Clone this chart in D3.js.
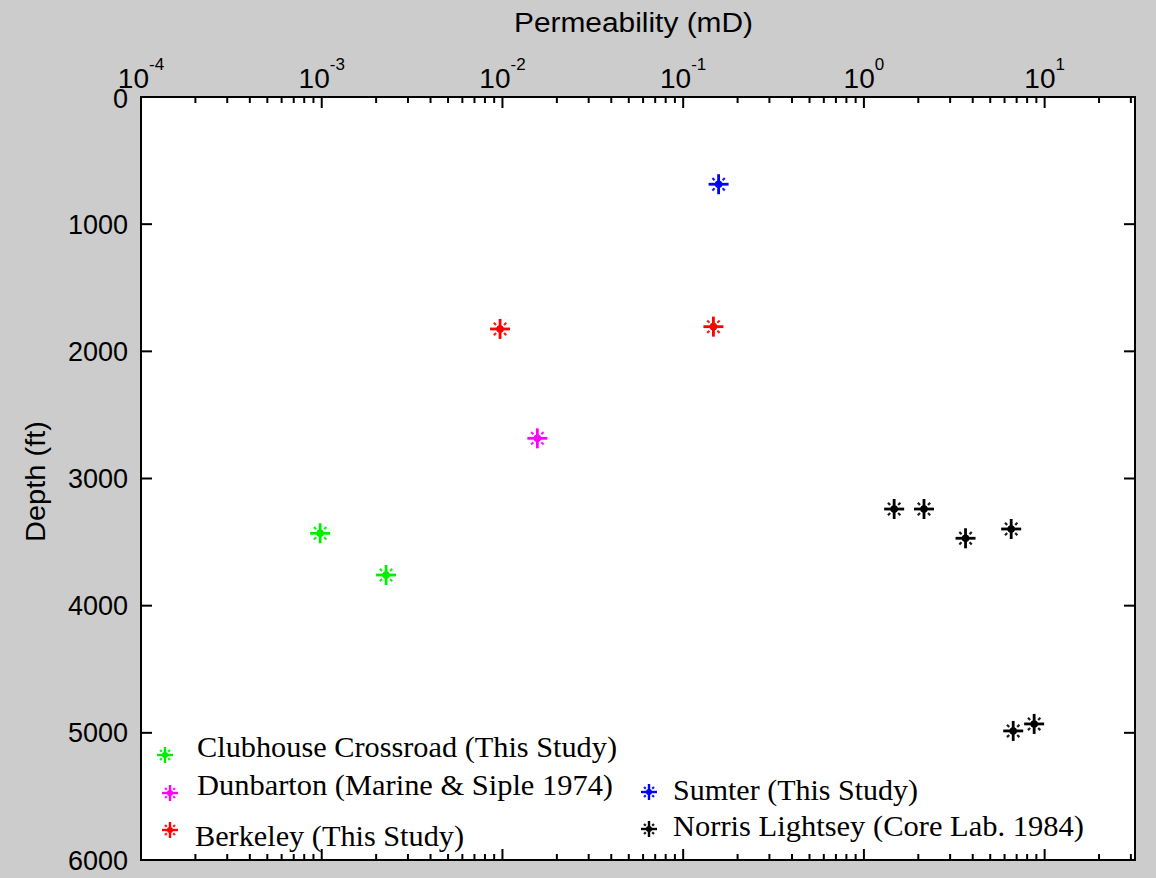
<!DOCTYPE html>
<html>
<head>
<meta charset="utf-8">
<script src="https://cdn.jsdelivr.net/npm/d3@7/dist/d3.min.js"></script>
<style>
  html, body { margin: 0; padding: 0; background: #cccccc; }
  svg { display: block; }
</style>
</head>
<body>
<svg id="chart" width="1156" height="878"></svg>
<script>
// ---- Data ----
const seriesNames = [
  "Clubhouse Crossroad (This Study)",
  "Dunbarton (Marine & Siple 1974)",
  "Berkeley (This Study)",
  "Sumter (This Study)",
  "Norris Lightsey (Core Lab. 1984)"
];
const seriesColors = ["#00ee00", "#ff00ff", "#ff0000", "#0000ff", "#000000"];

const clubhousePerm = [0.00098, 0.00227];
const clubhouseDepth = [3431, 3759];
const dunbartonPerm = [0.0156];
const dunbartonDepth = [2684];
const berkeleyPerm = [0.0097, 0.147];
const berkeleyDepth = [1824, 1806];
const sumterPerm = [0.157];
const sumterDepth = [686];
const norrisPerm = [1.47, 2.15, 3.65, 6.53, 6.70, 8.75];
const norrisDepth = [3240, 3240, 3470, 3397, 4985, 4930];

const xTickExponents = [-4, -3, -2, -1, 0, 1];
const yTicks = [0, 1000, 2000, 3000, 4000, 5000, 6000];
const xDomain = [1e-4, Math.pow(10, 1.5)];
const yDomain = [0, 6000];

// ---- Layout ----
const L = 141, R = 1135, T = 97, B = 860;
const svg = d3.select("#chart");
const x = d3.scaleLog().domain(xDomain).range([L, R]);
const y = d3.scaleLinear().domain(yDomain).range([T, B]);

// plot area
svg.append("rect").attr("x", L).attr("y", T).attr("width", R - L).attr("height", B - T)
  .attr("fill", "#ffffff");

// minor/major ticks for top & bottom
const allTicks = [];
for (let e = -4; e <= 1; e++) {
  for (let m = 1; m <= 9; m++) {
    const v = m * Math.pow(10, e);
    if (v >= xDomain[0] && v <= xDomain[1] * 1.0001) allTicks.push({ v, major: m === 1 });
  }
}
const tickG = svg.append("g").attr("stroke", "#000").attr("stroke-width", 2);
allTicks.forEach(t => {
  const len = t.major ? 11 : 6;
  const px = x(t.v);
  tickG.append("line").attr("x1", px).attr("x2", px).attr("y1", T).attr("y2", T + len);
  tickG.append("line").attr("x1", px).attr("x2", px).attr("y1", B).attr("y2", B - len);
});
yTicks.forEach(v => {
  const py = y(v);
  tickG.append("line").attr("x1", L).attr("x2", L + 11).attr("y1", py).attr("y2", py);
  tickG.append("line").attr("x1", R).attr("x2", R - 11).attr("y1", py).attr("y2", py);
});

// frame
svg.append("rect").attr("x", L).attr("y", T).attr("width", R - L).attr("height", B - T)
  .attr("fill", "none").attr("stroke", "#000").attr("stroke-width", 2);

// top tick labels
const sans = "'Liberation Sans', Arial, Helvetica, sans-serif";
xTickExponents.forEach(e => {
  const t = svg.append("text")
    .attr("x", x(Math.pow(10, e)))
    .attr("y", 88)
    .attr("text-anchor", "middle")
    .attr("font-family", sans)
    .attr("font-size", 28)
    .attr("fill", "#000");
  t.append("tspan").text("10");
  t.append("tspan").attr("dy", -18).attr("font-size", 17).text(String(e));
});

// y tick labels
yTicks.forEach(v => {
  svg.append("text")
    .attr("x", 128)
    .attr("y", y(v) + (v === 0 ? 11 : 9.5))
    .attr("text-anchor", "end")
    .attr("font-family", sans)
    .attr("font-size", 27)
    .attr("fill", "#000")
    .text(v);
});

// axis titles
svg.append("text")
  .attr("x", 633.5).attr("y", 32)
  .attr("text-anchor", "middle")
  .attr("font-family", sans).attr("font-size", 27)
  .attr("textLength", 239).attr("lengthAdjust", "spacingAndGlyphs")
  .text("Permeability (mD)");
svg.append("text")
  .attr("transform", "translate(45,481.5) rotate(-90)")
  .attr("text-anchor", "middle")
  .attr("font-family", sans).attr("font-size", 27)
  .attr("textLength", 121).attr("lengthAdjust", "spacingAndGlyphs")
  .text("Depth (ft)");

// marker
function marker(g, cx, cy, color, s) {
  const m = g.append("g").attr("transform", `translate(${cx},${cy})`);
  const sw = s > 8 ? 2.8 : 2.4;
  m.append("line").attr("x1", -s).attr("x2", s).attr("y1", 0).attr("y2", 0)
    .attr("stroke", color).attr("stroke-width", sw);
  m.append("line").attr("x1", 0).attr("x2", 0).attr("y1", -s).attr("y2", s)
    .attr("stroke", color).attr("stroke-width", sw);
  m.append("circle").attr("r", s * 0.38).attr("fill", color);
  const d1 = s * 0.4, d2 = s * 0.62;
  [[1,1],[1,-1],[-1,1],[-1,-1]].forEach(([a,b]) => {
    m.append("line")
      .attr("x1", a * d1).attr("y1", b * d1).attr("x2", a * d2).attr("y2", b * d2)
      .attr("stroke", color).attr("stroke-width", 2.2).attr("stroke-opacity", 0.9);
  });
}

const series = [
  { perm: clubhousePerm, depth: clubhouseDepth },
  { perm: dunbartonPerm, depth: dunbartonDepth },
  { perm: berkeleyPerm, depth: berkeleyDepth },
  { perm: sumterPerm, depth: sumterDepth },
  { perm: norrisPerm, depth: norrisDepth }
];
const ptsG = svg.append("g");
series.forEach((s, i) => {
  s.perm.forEach((p, j) => {
    marker(ptsG, x(p), y(s.depth[j]), seriesColors[i], 10);
  });
});

// legend
const serif = "'Liberation Serif', 'Times New Roman', Times, serif";
const legendItems = [
  { mx: 165, my: 755, tx: 197, ty: 757, w: 420 },
  { mx: 170, my: 793, tx: 197, ty: 795, w: 416 },
  { mx: 170, my: 830, tx: 195, ty: 846, w: 269 },
  { mx: 649, my: 792, tx: 673, ty: 800, w: 245 },
  { mx: 649, my: 829, tx: 673, ty: 836, w: 411 }
];
const legG = svg.append("g");
legendItems.forEach((it, i) => {
  marker(legG, it.mx, it.my, seriesColors[i], 8);
  legG.append("text")
    .attr("x", it.tx).attr("y", it.ty)
    .attr("font-family", serif).attr("font-size", 29)
    .attr("textLength", it.w).attr("lengthAdjust", "spacingAndGlyphs")
    .attr("fill", "#000")
    .text(seriesNames[i]);
});
</script>
</body>
</html>
